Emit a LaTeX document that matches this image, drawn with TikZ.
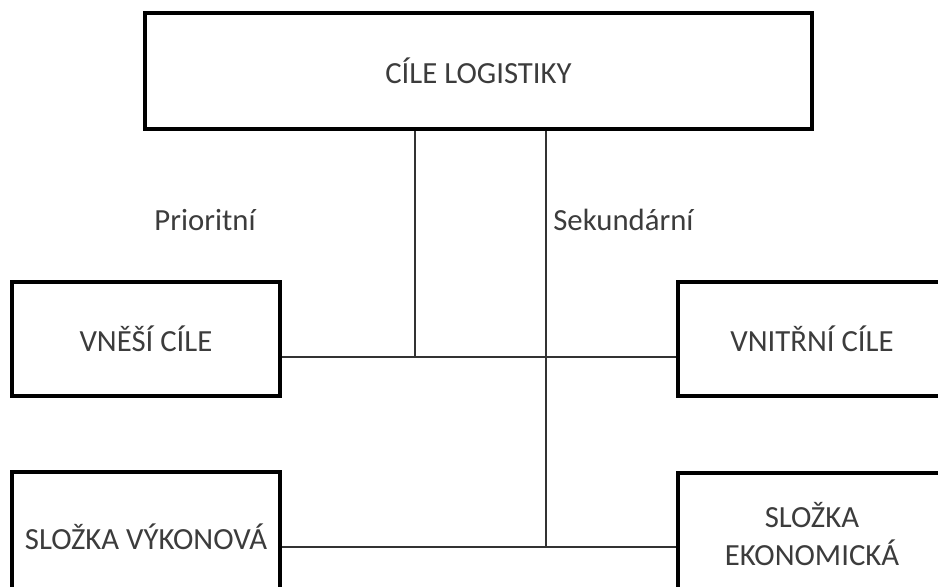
\documentclass[tikz,border=0pt]{standalone}
\usepackage{fontspec}
\setmainfont{Carlito}
\usetikzlibrary{
    calc,           % tikz's library for coordinate calculations
    positioning     % tikz's library for relative placement
}
\newcommand{\px}{0.02cm}
\definecolor{textgray}{HTML}{3C3C3C}
\tikzset{
    goal box/.style={draw, line width=2pt, minimum width=268*\px,
        minimum height=114*\px, inner sep=0pt, text=textgray,
        align=center, font=\fontsize{17.5}{21.5}\selectfont},
    top box/.style={goal box, minimum width=667*\px, minimum height=116*\px},
    low box/.style={goal box, minimum height=130*\px},
    link line/.style={draw, line width=0.7pt, black!80},
    side label/.style={text=textgray, font=\fontsize{17.5}{20}\selectfont, inner sep=0pt}
}

\begin{document}
\begin{tikzpicture}[x=\px, y=-\px]
        % frame of the picture
        \useasboundingbox (0,0) rectangle (938,586);
        \clip (0,0) rectangle (938,586);

        % top box
        \node [top box] (cile) at (478.5,71) {CÍLE LOGISTIKY};

        % middle row
        \node [goal box] (vnejsi)  at (146,339) {VNĚŠÍ CÍLE};
        \node [goal box] (vnitrni) at (812,339) {VNITŘNÍ CÍLE};

        % bottom row
        \node [low box] (vykon) at (146,537) {SLOŽKA VÝKONOVÁ};
        \node [low box, minimum height=122*\px] (ekon) at (812,534) {SLOŽKA\\EKONOMICKÁ};

        % labels of the branches
        \node [side label] (prior) at (205,220) {Prioritní};
        \node [side label, anchor=west] (sekund) at (553,220) {Sekundární};

        % junctions
        \coordinate (jA) at (415,357);
        \coordinate (jB) at (546,547);

        % connecting lines
        \draw [link line] (cile.south -| jA) -- (jA);
        \draw [link line] (vnejsi.east |- jA) -- (vnitrni.west |- jA);
        \draw [link line] (cile.south -| jB) -- (jB);
        \draw [link line] (vykon.east |- jB) -- (ekon.west |- jB);
    \end{tikzpicture}
\end{document}
